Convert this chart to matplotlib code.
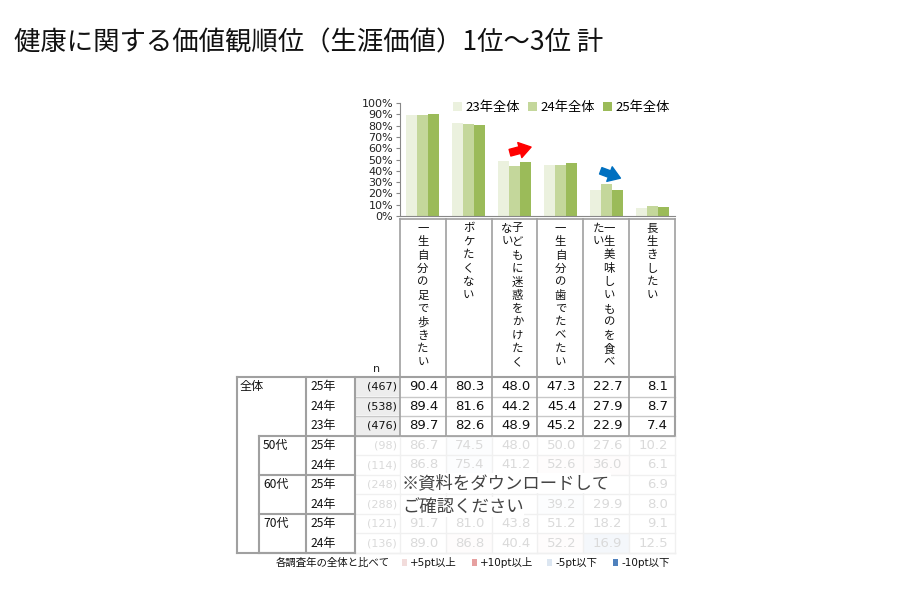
import numpy as np
import matplotlib
matplotlib.use('Agg')
import matplotlib.pyplot as plt
from matplotlib.patches import Rectangle

plt.rcParams['font.family'] = ['Noto Sans CJK JP', 'DejaVu Sans']
NUMFONT = ['DejaVu Sans', 'Noto Sans CJK JP']

title = '健康に関する価値観順位（生涯価値）1位～3位 計'
cats = ['一生自分の足で歩きたい', 'ボケたくない', '子どもに迷惑をかけたくない',
        '一生自分の歯でたべたい', '一生美味しいものを食べたい', '長生きしたい']
series_names = ['23年全体', '24年全体', '25年全体']
v23 = [89.7, 82.6, 48.9, 45.2, 22.9, 7.4]
v24 = [89.4, 81.6, 44.2, 45.4, 27.9, 8.7]
v25 = [90.4, 80.3, 48.0, 47.3, 22.7, 8.1]
series_colors = ['#ebf1de', '#c4d79b', '#9bbb59']

row_groups = ['全体', '', '', '50代', '', '60代', '', '70代', '']
row_years = ['25年', '24年', '23年', '25年', '24年', '25年', '24年', '25年', '24年']
row_n = [467, 538, 476, 98, 114, 248, 288, 121, 136]
# None = hidden behind the overlay note
table = [
    [90.4, 80.3, 48.0, 47.3, 22.7, 8.1],
    [89.4, 81.6, 44.2, 45.4, 27.9, 8.7],
    [89.7, 82.6, 48.9, 45.2, 22.9, 7.4],
    [86.7, 74.5, 48.0, 50.0, 27.6, 10.2],
    [86.8, 75.4, 41.2, 52.6, 36.0, 6.1],
    [None, None, None, None, None, 6.9],
    [None, None, None, 39.2, 29.9, 8.0],
    [91.7, 81.0, 43.8, 51.2, 18.2, 9.1],
    [89.0, 86.8, 40.4, 52.2, 16.9, 12.5],
]
legend_items = ['+5pt以上', '+10pt以上', '-5pt以下', '-10pt以下']
legend_cols = ['#f2dcdb', '#e6a0a0', '#dce6f1', '#4f81bd']

fig = plt.figure(figsize=(9, 6), dpi=100)

# canvas in pixel coords for the table
ov = fig.add_axes([0, 0, 1, 1])
ov.set_xlim(0, 900)
ov.set_ylim(600, 0)
ov.axis('off')

ov.text(14, 43, title, fontsize=19, va='center', ha='left', color='#111111')

# ---- bar chart
x0, colw = 400, 45.83
ax = fig.add_axes([x0 / 900, 1 - 216 / 600, 6 * colw / 900, 113 / 600])
x = np.arange(len(cats))
w = 0.24
for i, (vals, c, nm) in enumerate(zip([v23, v24, v25], series_colors, series_names)):
    ax.bar(x + (i - 1) * w, vals, w, color=c, label=nm)
ax.set_xlim(-0.5, 5.5)
ax.set_ylim(0, 100)
ax.set_yticks(np.arange(0, 101, 10))
ax.set_yticklabels([f'{t}%' for t in range(0, 101, 10)], family=NUMFONT, fontsize=8)
ax.set_xticks([])
for s in ['top', 'right']:
    ax.spines[s].set_visible(False)
ax.spines['left'].set_color('#888888')
ax.spines['bottom'].set_color('#888888')
ax.tick_params(axis='y', length=3, width=0.8, color='#888888', pad=2, labelcolor='#222222')
ax.legend(loc='upper right', ncol=3, frameon=False, fontsize=9.5, handlelength=0.7,
          handleheight=0.7, handletextpad=0.25, columnspacing=0.6,
          borderaxespad=0, bbox_to_anchor=(1.0, 1.06))
ax.annotate('', xy=(2.36, 61), xytext=(1.9, 56),
            arrowprops=dict(arrowstyle='simple,head_length=0.6,head_width=0.8,tail_width=0.35',
                            color='#ff0000', mutation_scale=14, shrinkA=0, shrinkB=0))
ax.annotate('', xy=(4.31, 33.5), xytext=(3.88, 40),
            arrowprops=dict(arrowstyle='simple,head_length=0.6,head_width=0.8,tail_width=0.35',
                            color='#0070c0', mutation_scale=14, shrinkA=0, shrinkB=0))

# ---- table
line = '#a0a0a0'
col_edges = [x0 + k * colw for k in range(len(cats) + 1)]
top_h, tab_top, tab_bot = 219, 377, 553
nrows = len(row_years)
row_edges = np.linspace(tab_top, tab_bot, nrows + 1)
row_c = (row_edges[:-1] + row_edges[1:]) / 2

# header (vertical labels)
ov.plot([col_edges[0], col_edges[-1]], [top_h, top_h], color=line, lw=1.2)
for xe in col_edges:
    ov.plot([xe, xe], [top_h, tab_top], color=line, lw=1.2)
maxc = 11
for k, lab in enumerate(cats):
    cx = (col_edges[k] + col_edges[k + 1]) / 2
    parts = [lab[:maxc], lab[maxc:]] if len(lab) > maxc else [lab]
    offs = [0] if len(parts) == 1 else [3, -7.5]
    for part, dx in zip(parts, offs):
        for j, ch in enumerate(part):
            ov.text(cx + dx, 228.5 + j * 13.4, ch, fontsize=8.2, ha='center', va='center',
                    color='#111111')
ov.text(377, 369, 'n', fontsize=8, ha='center', va='center', family=NUMFONT, color='#222222')

# body
for r in range(nrows):
    faded = r >= 3
    txtc = '#dadada' if faded else '#111111'
    grid = '#f0f0f0' if faded else '#c8c8c8'
    y0, y1 = row_edges[r], row_edges[r + 1]
    if not faded:
        ov.add_patch(Rectangle((355.5, y0 + 0.8), 44, y1 - y0 - 1.6, color='#ededed', lw=0))
    ov.plot([355, col_edges[-1]], [y1, y1], color=grid, lw=1)
    ov.text(397, row_c[r], f'({row_n[r]})', fontsize=8, ha='right', va='center',
            family=NUMFONT, color=txtc)
    ov.text(310, row_c[r], row_years[r], fontsize=8.7, ha='left', va='center', color='#111111')
    for k, v in enumerate(table[r]):
        if v is None:
            continue
        if faded:
            base = table[0] if row_years[r] == '25年' else table[1]
            d = v - base[k]
            fc = None
            if d >= 10:
                fc = legend_cols[1]
            elif d >= 5:
                fc = legend_cols[0]
            elif d <= -10:
                fc = legend_cols[3]
            elif d <= -5:
                fc = legend_cols[2]
            if fc:
                ov.add_patch(Rectangle((col_edges[k], y0), colw, y1 - y0, color=fc,
                                       alpha=0.06, lw=0))
        ov.text(col_edges[k + 1] - 7, row_c[r], f'{v:.1f}', fontsize=9.5, ha='right',
                va='center', family=NUMFONT, color=txtc)
    if row_groups[r]:
        gx = 240 if r == 0 else 263
        ov.text(gx, row_c[r], row_groups[r], fontsize=8.7, ha='left', va='center',
                color='#111111')

for xe in col_edges[1:-1]:
    ov.plot([xe, xe], [tab_top, row_edges[3]], color=line, lw=1.2)
    ov.plot([xe, xe], [row_edges[3], tab_bot], color='#f0f0f0', lw=1)
ov.plot([400, 400], [tab_top, row_edges[3]], color=line, lw=1.2)
ov.plot([400, 400], [row_edges[3], tab_bot], color='#f0f0f0', lw=1)
ov.plot([col_edges[-1], col_edges[-1]], [tab_top, row_edges[3]], color=line, lw=1.5)
ov.plot([col_edges[-1], col_edges[-1]], [row_edges[3], tab_bot], color='#f0f0f0', lw=1)
ov.plot([237, col_edges[-1]], [tab_top, tab_top], color=line, lw=1.5)
ov.plot([237, 355], [tab_bot, tab_bot], color=line, lw=1.5)
ov.plot([355, col_edges[-1]], [tab_bot, tab_bot], color='#f0f0f0', lw=1)
ov.plot([237, 237], [tab_top, tab_bot], color=line, lw=1.5)
ov.plot([306, 306], [tab_top, tab_bot], color=line, lw=1.5)
ov.plot([355, 355], [tab_top, tab_bot], color=line, lw=1.5)
ov.plot([355, col_edges[-1]], [row_edges[3], row_edges[3]], color=line, lw=1.2)
for r in range(3, nrows + 1):
    if r == nrows or row_groups[r]:
        ov.plot([259, 355], [row_edges[r], row_edges[r]], color=line, lw=1.5)
ov.plot([259, 259], [row_edges[3], tab_bot], color=line, lw=1.5)

# overlay note
ov.text(402, 483, '※資料をダウンロードして', fontsize=12.5, ha='left', va='center',
        color='#444444', bbox=dict(fc='white', ec='none', pad=0.5))
ov.text(402, 507, 'ご確認ください', fontsize=12.5, ha='left', va='center',
        color='#444444', bbox=dict(fc='white', ec='none', pad=0.5))

# bottom legend
ov.text(390, 563, '各調査年の全体と比べて', fontsize=7.5, ha='right', va='center',
        color='#111111')
leg_x = [402, 472, 547, 613]
for lx, lab, c in zip(leg_x, legend_items, legend_cols):
    ov.add_patch(Rectangle((lx, 559), 5, 7, color=c, lw=0))
    ov.text(lx + 8, 563, lab, fontsize=7.5, ha='left', va='center', family=NUMFONT,
            color='#111111')

fig.savefig('out.png', dpi=100)
